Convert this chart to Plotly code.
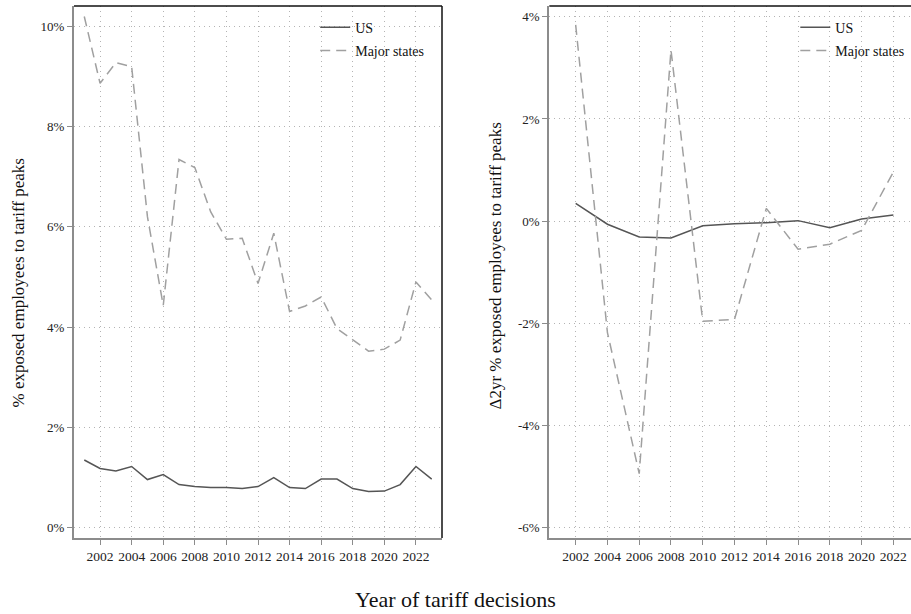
import plotly.graph_objects as go

years = list(range(2001, 2024))
us_level = [1.35, 1.18, 1.13, 1.22, 0.96, 1.06, 0.86, 0.82, 0.80, 0.80, 0.78, 0.82,
            1.00, 0.80, 0.78, 0.97, 0.97, 0.78, 0.72, 0.73, 0.86, 1.22, 0.97]
major_level = [10.19, 8.86, 9.27, 9.19, 6.2, 4.43, 7.34, 7.18, 6.3, 5.75, 5.77, 4.87,
               5.87, 4.31, 4.42, 4.60, 3.97, 3.75, 3.52, 3.56, 3.74, 4.90, 4.54]

years2 = list(range(2002, 2023, 2))
us_delta = [0.35, -0.06, -0.31, -0.33, -0.09, -0.05, -0.03, 0.01, -0.13, 0.04, 0.12]
major_delta = [3.84, -2.18, -4.94, 3.35, -1.96, -1.92, 0.25, -0.55, -0.45, -0.18, 0.96]

xticks = list(range(2002, 2023, 2))
yticks_left = [0, 2, 4, 6, 8, 10]
yticks_right = [-6, -4, -2, 0, 2, 4]

FONT = "Liberation Serif"
US_COLOR = "#555555"
MS_COLOR = "#a0a0a0"
DASH = "10px,6px"

fig = go.Figure()
fig.add_trace(go.Scatter(x=years, y=us_level, mode="lines", name="US", legendgroup="a",
                         line=dict(color=US_COLOR, width=1.5), xaxis="x", yaxis="y", legend="legend"))
fig.add_trace(go.Scatter(x=years, y=major_level, mode="lines", name="Major states", legendgroup="b",
                         line=dict(color=MS_COLOR, width=1.5, dash=DASH), xaxis="x", yaxis="y", legend="legend"))
fig.add_trace(go.Scatter(x=years2, y=us_delta, mode="lines", name="US", legendgroup="c",
                         line=dict(color=US_COLOR, width=1.5), xaxis="x2", yaxis="y2", legend="legend2"))
fig.add_trace(go.Scatter(x=years2, y=major_delta, mode="lines", name="Major states", legendgroup="d",
                         line=dict(color=MS_COLOR, width=1.5, dash=DASH), xaxis="x2", yaxis="y2", legend="legend2"))

W, H = 911, 614
ybot = (H - 538) / H
ytop = (H - 6) / H

GRID = dict(showgrid=True, gridcolor="#b4b4b4", griddash="1px,4px", gridwidth=1)
common_x = dict(tickmode="array", tickvals=xticks, ticktext=[str(t) for t in xticks],
                showline=True, linecolor="#8c8c8c", linewidth=2,
                ticks="outside", ticklen=5, tickcolor="#8c8c8c", tickwidth=1,
                tickfont=dict(family=FONT, size=13.5, color="#222"), zeroline=False, **GRID)
common_y = dict(showline=True, linecolor="#8c8c8c", linewidth=2,
                ticks="outside", ticklen=5, tickcolor="#8c8c8c", tickwidth=1,
                tickfont=dict(family=FONT, size=13, color="#222"), zeroline=False, **GRID)

title_font = dict(family=FONT, size=17, color="#111")
legend_common = dict(xanchor="left", yanchor="top", bgcolor="rgba(0,0,0,0)",
                     font=dict(family=FONT, size=14, color="#111"), tracegroupgap=2)

fig.update_layout(
    width=W, height=H, margin=dict(l=0, r=0, t=0, b=0),
    paper_bgcolor="white", plot_bgcolor="white",
    font=dict(family=FONT, color="#111"),
    xaxis=dict(domain=[74 / W, 442 / W], range=[2000.35, 2023.65], anchor="y", **common_x),
    yaxis=dict(domain=[ybot, ytop], range=[-0.205, 10.4], anchor="x",
               tickvals=yticks_left, ticktext=[f"{v}%" for v in yticks_left], **common_y),
    xaxis2=dict(domain=[549.3 / W, 1.0], range=[2000.34, 2023.11], anchor="y2", **common_x),
    yaxis2=dict(domain=[ybot, ytop], range=[-6.2, 4.21], anchor="x2",
                tickvals=yticks_right, ticktext=[f"{v}%" for v in yticks_right], **common_y),
    legend=dict(x=0.346, y=0.981, **legend_common),
    legend2=dict(x=0.873, y=0.981, **legend_common),
    showlegend=True,
    annotations=[
        dict(text="Year of tariff decisions", x=0.5, y=(H - 599) / H, xref="paper", yref="paper",
             showarrow=False, font=dict(family=FONT, size=22, color="#111"),
             xanchor="center", yanchor="middle"),
        dict(text="% exposed employees to tariff peaks", x=18 / W, y=(H - 410) / H,
             xref="paper", yref="paper", showarrow=False, textangle=-90, font=title_font,
             xanchor="center", yanchor="bottom"),
        dict(text="Δ2yr % exposed employees to tariff peaks", x=495 / W, y=(H - 412) / H,
             xref="paper", yref="paper", showarrow=False, textangle=-90, font=title_font,
             xanchor="center", yanchor="bottom"),
    ],
    shapes=[
        dict(type="line", xref="x domain", yref="y domain", x0=0, x1=1, y0=1, y1=1,
             line=dict(color="#111", width=1.5)),
        dict(type="line", xref="x domain", yref="y domain", x0=1, x1=1, y0=0, y1=1,
             line=dict(color="#111", width=1.5)),
        dict(type="line", xref="x2 domain", yref="y2 domain", x0=0, x1=1, y0=1, y1=1,
             line=dict(color="#111", width=1.5)),
    ],
)

fig.write_html("out.html")
